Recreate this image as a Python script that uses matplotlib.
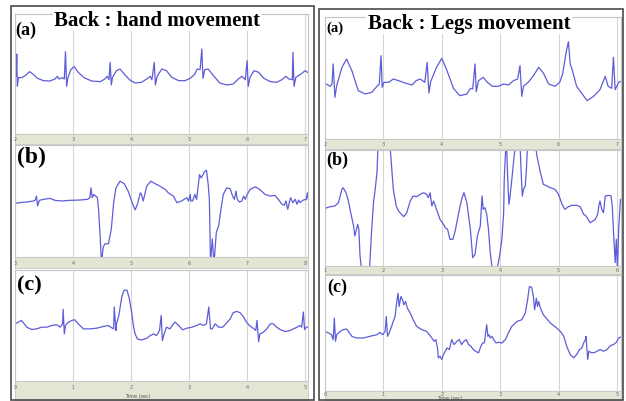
import matplotlib
matplotlib.use('Agg')
import matplotlib.pyplot as plt
from matplotlib.patches import Rectangle

# ---- data (time in s from left edge, amplitude in a.u.) ----
hand_a_t = [0.02, 0.03, 0.04, 0.06, 0.12, 0.19, 0.25, 0.30, 0.39, 0.49, 0.60, 0.69, 0.73, 0.76, 0.81, 0.85,
            0.87, 0.89, 0.91, 0.96, 1.02, 1.09, 1.19, 1.32, 1.47, 1.55, 1.59, 1.62, 1.64, 1.66, 1.68, 1.75,
            1.81, 1.88, 1.98, 2.07, 2.18, 2.27, 2.33, 2.36, 2.40, 2.42, 2.45, 2.53, 2.61, 2.70, 2.82, 2.93,
            3.02, 3.10, 3.14, 3.19, 3.22, 3.24, 3.27, 3.33, 3.42, 3.53, 3.65, 3.76, 3.85, 3.91, 3.97, 4.00,
            4.02, 4.05, 4.12, 4.20, 4.29, 4.40, 4.51, 4.60, 4.67, 4.72, 4.78, 4.79, 4.81, 4.84, 4.93, 5.00, 5.06]
hand_a_v = [-0.07, 0.60, -0.37, -0.11, -0.11, -0.03, 0.07, 0.01, -0.13, -0.20, -0.21, -0.15, -0.07, -0.15, -0.11, -0.15,
            0.67, -0.37, -0.13, 0.13, 0.22, 0.05, -0.11, -0.21, -0.23, -0.15, -0.07, -0.17, 0.35, -0.33, -0.10, 0.10,
            0.15, 0.00, -0.18, -0.27, -0.25, -0.15, -0.07, -0.17, 0.35, -0.33, -0.07, 0.15, 0.10, -0.10, -0.20, -0.20,
            -0.13, 0.00, 0.15, 0.13, 0.75, -0.13, 0.13, 0.15, -0.05, -0.27, -0.33, -0.30, -0.15, -0.07, -0.17, 0.40,
            -0.37, -0.10, 0.10, 0.05, -0.13, -0.23, -0.25, -0.17, -0.07, -0.15, -0.17, 0.65, -0.37, -0.10, 0.00, 0.10, 0.03]

hand_b_t = [0.00, 0.09, 0.20, 0.32, 0.35, 0.37, 0.39, 0.42, 0.49, 0.60, 0.69, 0.80, 0.95, 1.12, 1.25, 1.29,
            1.31, 1.33, 1.36, 1.39, 1.42, 1.44, 1.47, 1.49, 1.52, 1.55, 1.61, 1.66, 1.70, 1.74, 1.81, 1.88,
            1.95, 2.03, 2.07, 2.11, 2.16, 2.18, 2.21, 2.27, 2.34, 2.41, 2.50, 2.59, 2.64, 2.73, 2.79, 2.87,
            2.96, 2.99, 3.02, 3.03, 3.06, 3.10, 3.13, 3.18, 3.21, 3.24, 3.27, 3.30, 3.33, 3.35, 3.37, 3.40,
            3.43, 3.47, 3.51, 3.55, 3.59, 3.65, 3.71, 3.75, 3.78, 3.81, 3.83, 3.87, 3.91, 3.94, 3.97, 3.99,
            4.05, 4.14, 4.22, 4.31, 4.40, 4.48, 4.54, 4.60, 4.64, 4.67, 4.70, 4.72, 4.75, 4.79, 4.83, 4.86,
            4.89, 4.91, 4.97, 5.02, 5.04, 5.06]
hand_b_v = [-0.07, -0.05, -0.03, 0.00, 0.03, 0.15, -0.15, 0.02, 0.05, 0.08, 0.02, 0.00, 0.02, 0.03, 0.05, 0.10,
            0.40, 0.10, 0.20, 0.15, 0.10, -0.25, -1.15, -1.90, -1.40, -1.30, -1.30, -0.85, -0.05, 0.40, 0.60, 0.53,
            0.30, -0.10, -0.27, -0.10, 0.25, 0.20, 0.00, 0.45, 0.60, 0.53, 0.45, 0.35, 0.25, 0.15, -0.05, 0.00,
            0.10, 0.00, 0.20, 0.00, 0.00, 0.20, 0.05, 0.80, 0.70, 0.80, 0.90, 0.93, 0.50, 0.05, -1.90, -1.15,
            -1.90, -0.95, -0.75, -0.25, 0.20, 0.40, 0.37, 0.15, 0.05, 0.30, 0.05, -0.03, 0.00, 0.15, 0.05, 0.15,
            0.35, 0.43, 0.35, 0.20, 0.15, 0.17, 0.05, -0.10, -0.13, 0.00, -0.25, -0.10, 0.10, -0.05, 0.05, -0.10,
            0.03, -0.05, 0.03, 0.05, 0.25, 0.00]

hand_c_t = [0.00, 0.06, 0.11, 0.16, 0.20, 0.29, 0.37, 0.46, 0.55, 0.63, 0.72, 0.78, 0.82, 0.83, 0.85, 0.87,
            0.92, 0.98, 1.03, 1.09, 1.18, 1.29, 1.41, 1.52, 1.61, 1.65, 1.70, 1.71, 1.74, 1.75, 1.79, 1.84,
            1.88, 1.93, 1.97, 2.01, 2.04, 2.07, 2.11, 2.18, 2.27, 2.33, 2.39, 2.44, 2.49, 2.52, 2.54, 2.57,
            2.61, 2.67, 2.73, 2.76, 2.82, 2.89, 2.96, 3.05, 3.13, 3.19, 3.25, 3.30, 3.34, 3.37, 3.40, 3.45,
            3.51, 3.58, 3.65, 3.71, 3.76, 3.82, 3.88, 3.94, 3.99, 4.04, 4.08, 4.12, 4.15, 4.17, 4.20, 4.22,
            4.28, 4.34, 4.40, 4.45, 4.51, 4.57, 4.66, 4.74, 4.80, 4.86, 4.91, 4.94, 4.97, 4.99, 5.02, 5.05]
hand_c_v = [0.05, 0.10, 0.15, 0.05, -0.05, -0.12, -0.10, -0.05, -0.05, 0.00, 0.02, -0.05, 0.05, 0.48, -0.25, 0.00,
            0.10, 0.15, 0.17, 0.05, -0.10, -0.10, -0.08, -0.03, 0.00, -0.05, -0.10, 0.55, -0.15, 0.05, 0.30, 0.85,
            1.05, 1.05, 0.80, 0.40, 0.00, -0.25, -0.40, -0.43, -0.38, -0.30, -0.25, -0.30, -0.15, 0.30, -0.45, -0.25,
            -0.05, -0.10, 0.05, 0.10, 0.00, -0.13, -0.08, -0.05, 0.00, 0.05, 0.00, 0.05, 0.55, -0.10, -0.10, 0.05,
            -0.05, -0.05, 0.08, 0.20, 0.38, 0.42, 0.38, 0.25, 0.10, 0.00, -0.05, -0.10, -0.15, 0.15, -0.48, -0.25,
            -0.20, -0.10, 0.05, 0.05, -0.05, -0.12, -0.18, -0.15, -0.10, -0.05, 0.00, -0.05, 0.40, -0.12, -0.05, -0.05]

legs_a_t = [0.02, 0.09, 0.12, 0.14, 0.17, 0.20, 0.29, 0.37, 0.46, 0.57, 0.69, 0.80, 0.89, 0.93, 0.96, 0.98,
            1.01, 1.09, 1.17, 1.26, 1.37, 1.49, 1.56, 1.63, 1.71, 1.75, 1.78, 1.81, 1.91, 2.00, 2.09, 2.20,
            2.31, 2.43, 2.49, 2.53, 2.57, 2.59, 2.63, 2.71, 2.78, 2.87, 2.97, 3.06, 3.14, 3.23, 3.30, 3.34,
            3.37, 3.40, 3.49, 3.57, 3.66, 3.74, 3.83, 3.94, 4.02, 4.07, 4.13, 4.17, 4.20, 4.23, 4.31, 4.49,
            4.60, 4.71, 4.80, 4.85, 4.91, 4.94, 4.97, 5.03, 5.11]
legs_a_v = [-0.18, -0.25, -0.18, 0.42, -0.58, -0.23, 0.32, 0.57, 0.22, -0.38, -0.48, -0.43, -0.25, -0.18, 0.67, -0.28,
            -0.13, -0.13, -0.03, -0.08, -0.15, -0.21, -0.08, -0.03, -0.13, 0.47, -0.45, -0.11, 0.32, 0.59, 0.22, -0.31,
            -0.53, -0.48, -0.31, -0.33, 0.42, -0.41, -0.08, 0.02, -0.13, -0.25, -0.25, -0.18, -0.21, -0.08, -0.03, 0.37,
            -0.55, -0.25, -0.11, 0.07, 0.32, 0.15, -0.18, -0.25, -0.13, 0.12, 0.77, 1.09, 0.42, 0.27, -0.25, -0.68,
            -0.55, -0.35, 0.05, -0.25, -0.31, 0.62, -0.35, -0.13, -0.08]

legs_b_t = [0.00, 0.03, 0.09, 0.17, 0.23, 0.29, 0.31, 0.36, 0.40, 0.44, 0.49, 0.51, 0.54, 0.56, 0.58, 0.60,
            0.63, 0.69, 0.76, 0.80, 0.83, 0.86, 0.89, 0.91, 0.95, 1.11, 1.17, 1.22, 1.26, 1.31, 1.35, 1.40,
            1.46, 1.51, 1.57, 1.63, 1.69, 1.74, 1.77, 1.80, 1.83, 1.86, 1.89, 1.91, 1.97, 2.03, 2.06, 2.10,
            2.14, 2.19, 2.23, 2.29, 2.34, 2.38, 2.43, 2.49, 2.53, 2.57, 2.61, 2.66, 2.69, 2.71, 2.74, 2.77,
            2.80, 2.83, 2.87, 2.94, 2.99, 3.03, 3.06, 3.07, 3.10, 3.11, 3.13, 3.15, 3.17, 3.20, 3.24, 3.27,
            3.34, 3.36, 3.38, 3.40, 3.43, 3.45, 3.47, 3.60, 3.63, 3.69, 3.74, 3.80, 3.86, 3.94, 4.00, 4.06,
            4.11, 4.17, 4.23, 4.31, 4.37, 4.43, 4.46, 4.49, 4.54, 4.59, 4.63, 4.67, 4.69, 4.71, 4.74, 4.77,
            4.80, 4.86, 4.90, 4.92, 4.94, 4.97, 4.99, 5.01, 5.03, 5.06]
legs_b_v = [-0.04, 0.01, 0.04, 0.06, 0.16, 0.56, 0.61, 0.46, 0.21, -0.14, -0.54, -0.84, -0.64, -0.49, -0.64, -1.44,
            -1.90, -1.95, -1.90, -0.64, 0.16, 0.56, 1.06, 1.95, 1.95, 1.95, 0.56, 0.06, -0.09, -0.19, -0.26, -0.14,
            0.21, 0.36, 0.34, 0.41, 0.46, 0.41, 0.31, 0.46, 0.06, 0.21, 0.06, -0.04, -0.34, -0.49, -0.59, -0.64,
            -0.94, -0.94, -0.69, -0.14, 0.26, 0.46, 0.16, -0.64, -1.49, -1.39, -0.84, -0.54, 0.36, -0.04, 0.01, -0.19,
            -0.64, -1.34, -1.90, -1.90, -1.44, -0.94, -0.14, 0.86, 1.95, 1.95, 0.86, 0.11, 0.36, 0.86, 1.56, 1.95,
            1.95, 1.06, 0.36, 0.56, 0.66, 1.16, 1.95, 1.95, 1.56, 1.06, 0.71, 0.66, 0.61, 0.56, 0.41, 0.11,
            -0.04, 0.04, 0.08, 0.08, 0.04, -0.19, -0.22, -0.29, -0.44, -0.39, -0.34, -0.19, 0.06, 0.21, -0.04, -0.14,
            0.36, 0.38, 0.36, 0.06, -0.64, -1.64, -0.94, -1.90, -0.64, 0.26]

legs_c_t = [0.00, 0.06, 0.11, 0.14, 0.16, 0.18, 0.20, 0.26, 0.31, 0.37, 0.40, 0.46, 0.54, 0.66, 0.77, 0.89,
            0.94, 0.99, 1.03, 1.05, 1.07, 1.10, 1.14, 1.20, 1.23, 1.25, 1.27, 1.30, 1.33, 1.35, 1.38, 1.41,
            1.46, 1.51, 1.57, 1.66, 1.74, 1.81, 1.87, 1.90, 1.93, 1.94, 1.97, 2.00, 2.03, 2.09, 2.13, 2.17,
            2.21, 2.26, 2.30, 2.34, 2.38, 2.42, 2.46, 2.50, 2.54, 2.58, 2.63, 2.67, 2.70, 2.73, 2.75, 2.77,
            2.79, 2.81, 2.83, 2.86, 2.89, 2.93, 2.97, 3.03, 3.09, 3.14, 3.20, 3.29, 3.37, 3.43, 3.47, 3.50,
            3.54, 3.57, 3.59, 3.62, 3.64, 3.66, 3.69, 3.74, 3.86, 3.97, 4.03, 4.09, 4.14, 4.20, 4.26, 4.31,
            4.36, 4.40, 4.43, 4.46, 4.47, 4.50, 4.52, 4.57, 4.63, 4.71, 4.77, 4.83, 4.89, 4.94, 4.99, 5.03, 5.09]
legs_c_v = [0.05, 0.00, -0.05, -0.20, 0.45, -0.25, -0.05, 0.05, 0.10, 0.12, 0.05, -0.10, -0.15, -0.15, -0.10, -0.05,
            0.02, -0.05, 0.05, 0.50, -0.10, 0.00, 0.20, 0.50, 0.95, 1.20, 0.80, 1.10, 1.00, 0.85, 0.95, 0.75,
            0.60, 0.40, 0.20, 0.10, 0.05, -0.10, -0.25, -0.20, -0.50, -0.75, -0.70, -0.80, -0.65, -0.45, -0.50, -0.20,
            -0.35, -0.25, -0.20, -0.35, -0.25, -0.20, -0.35, -0.40, -0.50, -0.55, -0.60, -0.40, -0.30, -0.30, 0.00, 0.25,
            -0.10, -0.05, -0.15, -0.10, -0.20, -0.30, -0.28, -0.30, -0.20, 0.00, 0.20, 0.35, 0.40, 0.60, 1.00, 1.40,
            1.38, 1.10, 0.70, 1.05, 0.80, 0.95, 0.75, 0.55, 0.30, 0.15, 0.05, -0.10, -0.40, -0.65, -0.75, -0.65,
            -0.50, -0.45, -0.30, -0.20, -0.10, -0.80, -0.55, -0.60, -0.58, -0.50, -0.55, -0.50, -0.38, -0.35, -0.28, -0.15, -0.10]

# tick labels printed in the grey strip under each trace
hand_a_ticks = ['2', '3', '4', '5', '6', '7']
hand_b_ticks = ['3', '4', '5', '6', '7', '8']
hand_c_ticks = ['0', '1', '2', '3', '4', '5']
legs_a_ticks = ['2', '3', '4', '5', '6', '7']
legs_b_ticks = ['1', '2', '3', '4', '5', '6']
legs_c_ticks = ['0', '1', '2', '3', '4', '5']

W, H = 626, 402
TRACE = '#5d5dd8'
GRID = '#d6d6d6'
BAND = '#e3e6d5'
SERIF = 'Liberation Serif'

fig = plt.figure(figsize=(W / 100, H / 100), dpi=100)
fig.patch.set_facecolor('white')


def rect(x0, y0, x1, y1):
    # pixel box (top-left origin) -> figure fraction
    return [x0 / W, 1 - y1 / H, (x1 - x0) / W, (y1 - y0) / H]


def trace_panel(x0, x1, y0, y1, yb, t, v, ylim, xmax, ticks, time_label=False):
    ax = fig.add_axes(rect(x0, y0, x1, y1))
    for k in range(len(ticks)):
        ax.axvline(k, color=GRID, lw=0.8, zorder=0)
    ax.plot(t, v, color=TRACE, lw=0.9, solid_joinstyle='round')
    ax.set_xlim(0, xmax)
    ax.set_ylim(-ylim, ylim)
    ax.set_xticks([])
    ax.set_yticks([])
    for s in ax.spines.values():
        s.set_color('#c4c4c4')
        s.set_linewidth(0.8)

    bx = fig.add_axes(rect(x0, y1, x1, yb))
    bx.set_facecolor(BAND)
    bx.set_xlim(0, xmax)
    bx.set_ylim(0, 1)
    bx.set_xticks([])
    bx.set_yticks([])
    for s in bx.spines.values():
        s.set_color('#c4c4c4')
        s.set_linewidth(0.6)
    ty = 0.72 if time_label else 0.5
    for k, lab in enumerate(ticks):
        bx.text(k, ty, lab, fontsize=3.5, ha='center', va='center', color='#666666')
    if time_label:
        bx.text(xmax * 0.42, 0.25, 'Time (sec)', fontsize=3.5, ha='center', va='center', color='#555555')
    return ax


# left block: hand movement
trace_panel(15, 308, 15, 135, 145, hand_a_t, hand_a_v, 1.80, 5.05, hand_a_ticks)
trace_panel(15, 308, 146, 258, 269, hand_b_t, hand_b_v, 1.70, 5.05, hand_b_ticks)
trace_panel(15, 308, 271, 382, 401, hand_c_t, hand_c_v, 1.65, 5.05, hand_c_ticks, time_label=True)

# right block: legs movement
trace_panel(325, 621, 18, 140, 150, legs_a_t, legs_a_v, 1.83, 5.07, legs_a_ticks)
trace_panel(325, 621, 151, 267, 275, legs_b_t, legs_b_v, 1.74, 5.07, legs_b_ticks)
trace_panel(325, 621, 276, 392, 401, legs_c_t, legs_c_v, 1.75, 5.07, legs_c_ticks, time_label=True)

# outer frames
for (x0, y0, x1, y1) in [(11, 7, 314, 401), (319, 10, 623, 401)]:
    fig.add_artist(Rectangle((x0 / W, 1 - y1 / H), (x1 - x0) / W, (y1 - y0) / H,
                             transform=fig.transFigure, fill=False, ec='#4a4a4a', lw=1.2))


def ftext(x, y, s, size, **kw):
    fig.text(x / W, 1 - y / H, s, fontsize=size, family=SERIF, fontweight='bold', color='black', **kw)


ftext(157, 26, 'Back : hand movement', 15, ha='center', va='baseline',
      bbox=dict(facecolor='white', edgecolor='none', pad=1.0))
ftext(469, 29, 'Back : Legs movement', 15, ha='center', va='baseline',
      bbox=dict(facecolor='white', edgecolor='none', pad=1.0))

ftext(15, 30, '(a)', 13, ha='left', va='center')
ftext(17, 157, '(b)', 17, ha='left', va='center')
ftext(17, 285, '(c)', 16, ha='left', va='center')
ftext(326, 28, '(a)', 10.5, ha='left', va='center')
ftext(326, 160, '(b)', 13, ha='left', va='center')
ftext(327, 287, '(c)', 13, ha='left', va='center')

fig.savefig('out.png', dpi=100, facecolor='white')
